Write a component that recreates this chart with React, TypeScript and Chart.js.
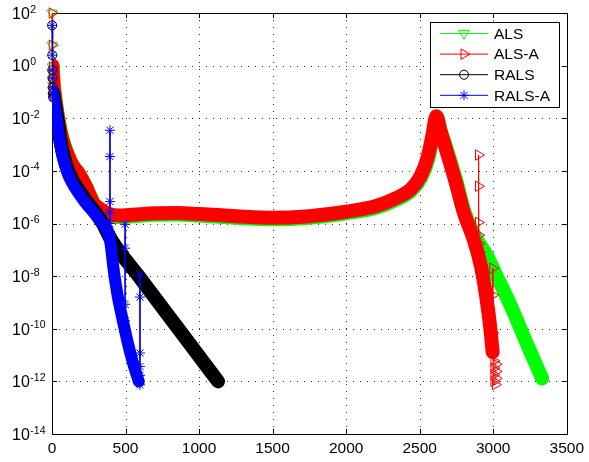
import React, { useEffect, useRef } from "react";
import { Chart, registerables } from "chart.js";

Chart.register(...registerables);

// ---------- data ----------
const seriesNames = ["ALS", "ALS-A", "RALS", "RALS-A"];
const seriesColors = ["#00ff00", "#ff0000", "#000000", "#0000ff"];

const xTicks = [0, 500, 1000, 1500, 2000, 2500, 3000, 3500];
const yTicks = [1e-14, 1e-12, 1e-10, 1e-8, 1e-6, 1e-4, 1e-2, 1e0, 1e2];

// ALS (green): dense band
const alsIter = [3, 12, 25, 46, 73, 103, 143, 184, 233, 284, 333, 383, 450, 550, 700, 850, 1000, 1250, 1500, 1750, 2000, 2204, 2345, 2445, 2511, 2558, 2591, 2616, 2644, 2680, 2748, 2808, 2880, 2955, 3015, 3122, 3230, 3332];
const alsRes = [1.0, 0.2, 0.05, 8e-3, 1.6e-3, 5e-4, 1.6e-4, 8e-5, 2.5e-5, 6e-6, 3.3e-6, 2.1e-6, 1.75e-6, 1.9e-6, 2.15e-6, 2.2e-6, 2.0e-6, 1.65e-6, 1.45e-6, 1.65e-6, 2.45e-6, 4.0e-6, 8.2e-6, 1.8e-5, 5.6e-5, 2.8e-4, 2.1e-3, 1.1e-2, 3.2e-3, 8e-4, 4.4e-5, 2.5e-6, 3e-7, 6.3e-8, 1.26e-8, 6.9e-10, 2.6e-11, 1.3e-12];
const alsMarkIter = [1, 2, 3, 4, 5, 6, 7, 8];
const alsMarkRes = [1e2, 6, 0.9, 0.5, 0.3, 0.18, 0.11, 0.07];

// ALS-A (red)
const alsaIter = [3, 10, 22, 43, 70, 100, 140, 181, 230, 281, 330, 380, 450, 550, 700, 850, 1000, 1250, 1500, 1750, 2000, 2204, 2340, 2440, 2506, 2553, 2587, 2613, 2640, 2674, 2741, 2801, 2869, 2926, 2976, 2996];
const alsaRes = [1.0, 0.2, 0.05, 8e-3, 1.6e-3, 5e-4, 1.6e-4, 8e-5, 2.5e-5, 6e-6, 3.5e-6, 2.4e-6, 2.0e-6, 2.15e-6, 2.45e-6, 2.5e-6, 2.3e-6, 1.9e-6, 1.65e-6, 1.9e-6, 2.8e-6, 4.6e-6, 9.3e-6, 2e-5, 6.3e-5, 3.1e-4, 2.3e-3, 1.2e-2, 3.5e-3, 8e-4, 4.4e-5, 2.5e-6, 2.3e-7, 1.3e-8, 1.7e-10, 1.3e-11];
const alsaMarkIter = [1, 2, 3, 4, 5, 6, 7, 8, 8, 2900, 2900, 2900, 2902, 2904, 2907, 2907, 2915, 2925, 2935, 2945, 2955, 2955, 2997, 2997, 2997, 2999, 3005, 3020, 3005, 3020, 3005, 3020, 3005, 3015];
const alsaMarkRes = [1e2, 6, 0.9, 0.5, 0.3, 0.18, 0.11, 0.07, null, 4e-4, 2.6e-5, 1.1e-6, 3.6e-7, 1.7e-7, 8e-8, null, 4e-8, 1.5e-8, 5e-9, 1.8e-9, 6e-10, null, 2e-8, 1.9e-9, 7e-11, 1.5e-11, 6e-12, 4.5e-12, 3.2e-12, 2.4e-12, 1.8e-12, 1.3e-12, 1e-12, 7.5e-13];

// RALS (black)
const ralsIter = [5, 15, 36, 62, 110, 215, 335, 405, 600, 800, 1000, 1129];
const ralsRes = [0.1, 0.05, 1e-2, 1e-3, 1e-4, 1e-5, 1.26e-6, 2.3e-7, 8.3e-9, 2.75e-10, 9e-12, 1e-12];
const ralsMarkIter = [1, 2, 3, 4, 5, 6, 7];
const ralsMarkRes = [34, 2.5, 0.68, 0.33, 0.15, 0.09, 0.063];

// RALS-A (blue)
const ralsaIter = [5, 13, 32, 55, 100, 200, 325, 395, 418, 445, 478, 512, 547, 590];
const ralsaRes = [0.1, 0.05, 1e-2, 1e-3, 1e-4, 1e-5, 1.26e-6, 2.2e-7, 2e-8, 2e-9, 2.5e-10, 3.5e-11, 6e-12, 1e-12];
const ralsaMarkIter = [1, 2, 3, 4, 5, 6, 7, 7, 394, 394, 394, 394, 394, 394, 394, 394, 497, 497, 497, 497, 497, 497, 598, 598, 598, 598, 598, 598];
const ralsaMarkRes = [34, 2.5, 0.68, 0.33, 0.15, 0.09, 0.063, null, 3.5e-3, 3.5e-4, 6.8e-6, 2.6e-6, 1e-6, 5e-7, 2.5e-7, null, 9.3e-7, 1.15e-7, 8.5e-10, 2e-10, 9e-11, null, 1.1e-8, 1.6e-9, 1.2e-11, 3.7e-12, 1.7e-12, 7.4e-13];

// ---------- helpers ----------
const FONT = "'Liberation Sans', Arial, Helvetica, sans-serif";

function pts(xs: number[], ys: (number | null)[]) {
  return xs.map((x, i) => ({ x, y: ys[i] }));
}

const markerStyles = [
  { style: "triangle", rotation: 180, radius: 6 },
  { style: "triangle", rotation: 90, radius: 6 },
  { style: "circle", rotation: 0, radius: 4.5 },
  { style: "star", rotation: 0, radius: 5 },
];

function drawMarker(ctx: CanvasRenderingContext2D, kind: number, x: number, y: number, color: string) {
  const m = markerStyles[kind];
  ctx.save();
  ctx.strokeStyle = color;
  ctx.lineWidth = 1;
  ctx.beginPath();
  if (m.style === "triangle") {
    let rad = (m.rotation * Math.PI) / 180;
    for (let k = 0; k < 3; k++) {
      const px = x + Math.sin(rad) * m.radius;
      const py = y - Math.cos(rad) * m.radius;
      if (k === 0) ctx.moveTo(px, py);
      else ctx.lineTo(px, py);
      rad += (2 * Math.PI) / 3;
    }
    ctx.closePath();
  } else if (m.style === "circle") {
    ctx.arc(x, y, m.radius, 0, Math.PI * 2);
  } else {
    for (let k = 0; k < 4; k++) {
      const a = (k * Math.PI) / 4;
      ctx.moveTo(x - Math.cos(a) * m.radius, y - Math.sin(a) * m.radius);
      ctx.lineTo(x + Math.cos(a) * m.radius, y + Math.sin(a) * m.radius);
    }
  }
  ctx.stroke();
  ctx.restore();
}

// dotted grid, box frame, inward ticks (MATLAB style)
const framePlugin = {
  id: "matlabFrame",
  beforeDatasetsDraw(chart: any) {
    const { ctx, chartArea: a, scales } = chart;
    ctx.save();
    ctx.strokeStyle = "rgba(0,0,0,0.8)";
    ctx.lineWidth = 1;
    ctx.setLineDash([1, 6]);
    ctx.beginPath();
    xTicks.forEach((v) => {
      const px = Math.round(scales.x.getPixelForValue(v)) + 0.5;
      ctx.moveTo(px, a.bottom);
      ctx.lineTo(px, a.top);
    });
    yTicks.forEach((v) => {
      const py = Math.round(scales.y.getPixelForValue(v)) + 0.5;
      ctx.moveTo(a.left, py);
      ctx.lineTo(a.right, py);
    });
    ctx.stroke();
    ctx.setLineDash([]);
    ctx.strokeStyle = "#000";
    ctx.strokeRect(Math.round(a.left) + 0.5, Math.round(a.top) + 0.5, Math.round(a.right - a.left), Math.round(a.bottom - a.top));
    ctx.beginPath();
    xTicks.forEach((v) => {
      const px = Math.round(scales.x.getPixelForValue(v)) + 0.5;
      ctx.moveTo(px, a.bottom); ctx.lineTo(px, a.bottom - 5);
      ctx.moveTo(px, a.top); ctx.lineTo(px, a.top + 5);
    });
    yTicks.forEach((v) => {
      const py = Math.round(scales.y.getPixelForValue(v)) + 0.5;
      ctx.moveTo(a.left, py); ctx.lineTo(a.left + 5, py);
      ctx.moveTo(a.right, py); ctx.lineTo(a.right - 5, py);
    });
    ctx.stroke();
    ctx.restore();
  },
  afterDraw(chart: any) {
    // y tick labels "10" with raised exponent
    const { ctx, scales } = chart;
    ctx.save();
    ctx.fillStyle = "#000";
    ctx.textAlign = "left";
    ctx.textBaseline = "alphabetic";
    yTicks.forEach((v) => {
      const py = scales.y.getPixelForValue(v);
      const e = String(Math.round(Math.log10(v)));
      ctx.font = `16px ${FONT}`;
      ctx.fillText("10", 12, py + 5.8);
      const w = ctx.measureText("10").width;
      ctx.font = `10.5px ${FONT}`;
      ctx.fillText(e, 12 + w + 0.5, py - 0.5);
    });
    ctx.restore();
  },
};

const legendPlugin = {
  id: "matlabLegend",
  afterDatasetsDraw(chart: any) {
    const { ctx, chartArea: a } = chart;
    const w = 129, h = 85;
    const x0 = Math.round(a.right - 8 - w);
    const y0 = Math.round(a.top + 9);
    ctx.save();
    ctx.fillStyle = "#ffffff";
    ctx.fillRect(x0, y0, w, h);
    ctx.strokeStyle = "#000";
    ctx.lineWidth = 1;
    ctx.strokeRect(x0 + 0.5, y0 + 0.5, w, h);
    seriesNames.forEach((name, i) => {
      const y = y0 + 11.5 + i * 20.6;
      ctx.strokeStyle = seriesColors[i];
      ctx.lineWidth = 1;
      ctx.beginPath();
      ctx.moveTo(x0 + 10, y);
      ctx.lineTo(x0 + 58, y);
      ctx.stroke();
      drawMarker(ctx, i, x0 + 34, y, seriesColors[i]);
      ctx.fillStyle = "#000";
      ctx.font = `15.5px ${FONT}`;
      ctx.textAlign = "left";
      ctx.textBaseline = "middle";
      ctx.fillText(name, x0 + 64, y + 1);
    });
    ctx.restore();
  },
};

function bandDataset(i: number, xs: number[], ys: number[], width: number, order: number) {
  return {
    label: seriesNames[i],
    data: pts(xs, ys),
    borderColor: seriesColors[i],
    backgroundColor: seriesColors[i],
    borderWidth: width,
    borderCapStyle: "round",
    borderJoinStyle: "round",
    cubicInterpolationMode: "monotone",
    pointRadius: 0,
    order,
  };
}

function markDataset(i: number, xs: number[], ys: (number | null)[], order: number) {
  const m = markerStyles[i];
  return {
    label: seriesNames[i] + " markers",
    data: pts(xs, ys),
    borderColor: seriesColors[i],
    backgroundColor: "rgba(0,0,0,0)",
    borderWidth: 1,
    pointStyle: m.style,
    pointRotation: m.rotation,
    pointRadius: m.radius,
    pointBorderColor: seriesColors[i],
    pointBackgroundColor: "rgba(0,0,0,0)",
    pointBorderWidth: 1,
    spanGaps: false,
    clip: false,
    order,
  };
}

export default function App() {
  const ref = useRef<HTMLCanvasElement>(null);
  useEffect(() => {
    if (!ref.current) return;
    const chart = new Chart(ref.current, {
      type: "line",
      data: {
        datasets: [
          bandDataset(0, alsIter, alsRes, 14, 8),
          markDataset(0, alsMarkIter, alsMarkRes, 7),
          bandDataset(1, alsaIter, alsaRes, 14, 6),
          markDataset(1, alsaMarkIter, alsaMarkRes, 5),
          bandDataset(2, ralsIter, ralsRes, 14, 4),
          markDataset(2, ralsMarkIter, ralsMarkRes, 3),
          bandDataset(3, ralsaIter, ralsaRes, 12, 2),
          markDataset(3, ralsaMarkIter, ralsaMarkRes, 1),
        ] as any,
      },
      options: {
        responsive: false,
        animation: false,
        devicePixelRatio: 1,
        layout: { padding: { left: 12, right: 16, top: 13, bottom: 0 } },
        plugins: { legend: { display: false }, tooltip: { enabled: false } },
        scales: {
          x: {
            type: "linear",
            min: 0,
            max: 3500,
            afterBuildTicks: (scale: any) => {
              scale.ticks = xTicks.map((v) => ({ value: v }));
            },
            afterFit: (scale: any) => {
              scale.height = 28;
            },
            ticks: {
              color: "#000",
              font: { family: FONT, size: 15.5 },
              padding: 5,
              maxRotation: 0,
              autoSkip: false,
              callback: (v: any) => String(v),
            },
            grid: { display: false, drawTicks: false },
            border: { display: true, color: "#000", width: 1 },
          },
          y: {
            type: "logarithmic",
            min: 1e-14,
            max: 1e2,
            afterBuildTicks: (scale: any) => {
              scale.ticks = yTicks.map((v) => ({ value: v }));
            },
            afterFit: (scale: any) => {
              scale.width = 40;
            },
            ticks: {
              display: false,
              autoSkip: false,
            },
            grid: { display: false, drawTicks: false },
            border: { display: true, color: "#000", width: 1 },
          },
        },
      } as any,
      plugins: [framePlugin, legendPlugin],
    });
    return () => chart.destroy();
  }, []);
  return (
    <div style={{ position: "fixed", left: 0, top: 0, width: 589, height: 462, background: "#fff" }}>
      <canvas ref={ref} width={589} height={462} style={{ display: "block" }} />
    </div>
  );
}
